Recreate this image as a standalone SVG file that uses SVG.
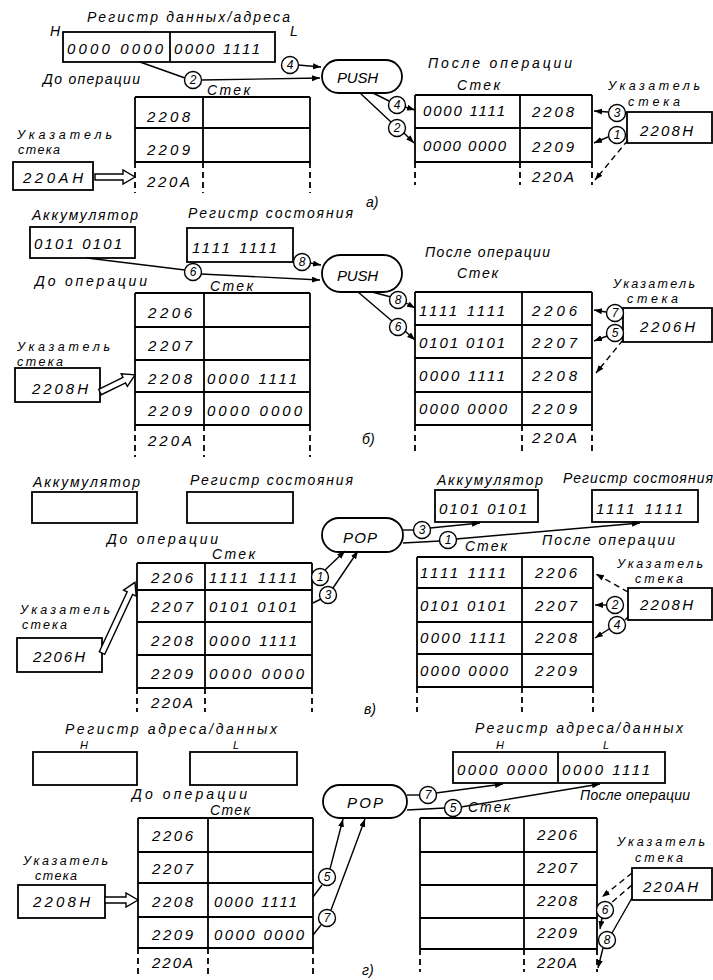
<svg xmlns="http://www.w3.org/2000/svg" width="713" height="980" viewBox="0 0 713 980">
<style>
.t{font-family:"Liberation Sans",Arial,sans-serif;font-style:italic;font-size:14px;fill:#000}
.v{font-size:15px}
.s{font-size:11px}
.p{font-size:12.5px}
.b{fill:none;stroke:#000;stroke-width:1.8}
.l{fill:none;stroke:#000;stroke-width:1.4}
.d{stroke-dasharray:6 4}
.c{fill:#fff;stroke:#000;stroke-width:1.4}
.n{font-family:"Liberation Sans",Arial,sans-serif;font-style:italic;font-size:12px;text-anchor:middle;fill:#000}
.h{fill:#fff;stroke:#000;stroke-width:1.4}
.op{fill:#fff;stroke:#000;stroke-width:1.8}
</style>
<defs>
<marker id="ah" markerUnits="userSpaceOnUse" markerWidth="9" markerHeight="7" refX="8" refY="3" orient="auto"><path d="M0,0 L8,3 L0,6 z" fill="#000"/></marker>
</defs>
<rect width="713" height="980" fill="#fff"/>

<!-- ===== a) ===== -->
<g id="reg-a-before">
<text class="t" x="87" y="22" textLength="203">Регистр данных/адреса</text>
<text class="t" x="50" y="36">H</text>
<text class="t" x="290" y="36">L</text>
<rect class="b" x="63" y="32" width="212" height="30"/>
<line class="b" x1="170" y1="32" x2="170" y2="62"/>
<text class="t v" x="67" y="54" textLength="96">0000 0000</text>
<text class="t v" x="174" y="54" textLength="86">0000 1111</text>
</g>
<g id="label-a-before"><text class="t" x="43" y="84" textLength="97">До операции</text></g>
<g id="stack-a-before">
<text class="t" x="207" y="95" textLength="43">Стек</text>
<path class="b" d="M135,97H310 M135,128H310 M135,162H310 M135,97V162 M203,97V162 M310,97V162"/>
<path class="b d" d="M135,162V193 M203,162V193 M310,162V193"/>
<text class="t v" x="147" y="122" textLength="43">2208</text>
<text class="t v" x="147" y="155" textLength="43">2209</text>
<text class="t v" x="147" y="187" textLength="43">220A</text>
</g>
<g id="sp-a-before">
<text class="t p" x="17" y="139" textLength="95">Указатель</text>
<text class="t p" x="18" y="154" textLength="42">стека</text>
<rect class="b" x="13" y="162" width="80" height="28"/>
<text class="t v" x="23" y="183" textLength="60">220AH</text>
<path class="h" transform="translate(95,177)" d="M0,-3 L28,-3 L28,-7 L40,0 L28,7 L28,3 L0,3 Z"/>
</g>
<g id="push-a">
<rect class="op" x="322" y="60" width="80" height="33" rx="16.5"/>
<text class="t v" x="337" y="83" textLength="41">PUSH</text>
</g>
<g id="label-a-after"><text class="t" x="428" y="68" textLength="144">После операции</text></g>
<g id="stack-a-after">
<text class="t" x="457" y="90" textLength="43">Стек</text>
<path class="b" d="M415,95H592 M415,128H592 M415,162H592 M415,95V162 M520,95V162 M592,95V162"/>
<path class="b d" d="M415,162V185 M520,162V185 M592,162V185"/>
<text class="t v" x="423" y="116" textLength="82">0000 1111</text>
<text class="t v" x="532" y="117" textLength="42">2208</text>
<text class="t v" x="423" y="151" textLength="83">0000 0000</text>
<text class="t v" x="532" y="152" textLength="42">2209</text>
<text class="t v" x="532" y="182" textLength="42">220A</text>
</g>
<g id="sp-a-after">
<text class="t p" x="608" y="90" textLength="92">Указатель</text>
<text class="t p" x="628" y="106" textLength="52">стека</text>
<rect class="b" x="627" y="112" width="85" height="31"/>
<text class="t v" x="640" y="136" textLength="53">2208H</text>
</g>
<text class="t" x="366" y="207">а)</text>

<!-- ===== б) ===== -->
<g id="acc-b-before">
<text class="t" x="32" y="220" textLength="106">Аккумулятор</text>
<rect class="b" x="30" y="227" width="105" height="31"/>
<text class="t v" x="34" y="249" textLength="88">0101 0101</text>
</g>
<g id="sr-b-before">
<text class="t" x="188" y="218" textLength="165">Регистр состояния</text>
<rect class="b" x="187" y="228" width="106" height="34"/>
<text class="t v" x="192" y="253" textLength="85">1111 1111</text>
</g>
<g id="label-b-before"><text class="t" x="35" y="286" textLength="112">До операции</text></g>
<g id="stack-b-before">
<text class="t" x="210" y="291" textLength="43">Стек</text>
<path class="b" d="M135,293H310 M135,327H310 M135,360H310 M135,392H310 M135,425H310 M135,293V425 M204,293V425 M310,293V425"/>
<path class="b d" d="M135,425V457 M204,425V457 M310,425V457"/>
<text class="t v" x="148" y="318" textLength="44">2206</text>
<text class="t v" x="148" y="351" textLength="44">2207</text>
<text class="t v" x="148" y="384" textLength="44">2208</text>
<text class="t v" x="148" y="416" textLength="44">2209</text>
<text class="t v" x="148" y="446" textLength="44">220A</text>
<text class="t v" x="207" y="384" textLength="90">0000 1111</text>
<text class="t v" x="207" y="416" textLength="95">0000 0000</text>
</g>
<g id="sp-b-before">
<text class="t p" x="17" y="351" textLength="93">Указатель</text>
<text class="t p" x="17" y="366" textLength="46">стека</text>
<rect class="b" x="15" y="368" width="85" height="34"/>
<text class="t v" x="32" y="394" textLength="56">2208H</text>
<path class="h" transform="translate(100,392) rotate(-26)" d="M0,-3 L27,-3 L27,-7 L39,0 L27,7 L27,3 L0,3 Z"/>
</g>
<g id="push-b">
<rect class="op" x="322" y="255" width="80" height="37" rx="18.5"/>
<text class="t v" x="337" y="281" textLength="41">PUSH</text>
</g>
<g id="label-b-after"><text class="t" x="425" y="257" textLength="125">После операции</text></g>
<g id="stack-b-after">
<text class="t" x="457" y="278" textLength="41">Стек</text>
<path class="b" d="M415,292H592 M415,325H592 M415,358H592 M415,392H592 M415,425H592 M415,292V425 M522,292V425 M592,292V425"/>
<path class="b d" d="M415,425V452 M522,425V452 M592,425V452"/>
<text class="t v" x="419" y="316" textLength="86">1111 1111</text>
<text class="t v" x="419" y="348" textLength="86">0101 0101</text>
<text class="t v" x="419" y="381" textLength="86">0000 1111</text>
<text class="t v" x="419" y="414" textLength="88">0000 0000</text>
<text class="t v" x="532" y="316" textLength="45">2206</text>
<text class="t v" x="532" y="348" textLength="45">2207</text>
<text class="t v" x="532" y="381" textLength="45">2208</text>
<text class="t v" x="532" y="414" textLength="45">2209</text>
<text class="t v" x="532" y="443" textLength="45">220A</text>
</g>
<g id="sp-b-after">
<text class="t p" x="613" y="288" textLength="82">Указатель</text>
<text class="t p" x="627" y="303" textLength="51">стека</text>
<rect class="b" x="623" y="308" width="89" height="34"/>
<text class="t v" x="640" y="332" textLength="55">2206H</text>
</g>
<text class="t" x="362" y="444">б)</text>

<!-- ===== в) ===== -->
<g id="acc-c-before">
<text class="t" x="33" y="487" textLength="107">Аккумулятор</text>
<rect class="b" x="32" y="492" width="105" height="31"/>
</g>
<g id="sr-c-before">
<text class="t" x="190" y="485" textLength="163">Регистр состояния</text>
<rect class="b" x="187" y="492" width="106" height="31"/>
</g>
<g id="label-c-before"><text class="t" x="107" y="544" textLength="111">До операции</text></g>
<g id="stack-c-before">
<text class="t" x="212" y="559" textLength="43">Стек</text>
<path class="b" d="M137,563H312 M137,590H312 M137,622H312 M137,655H312 M137,688H312 M137,563V688 M205,563V688 M312,563V688"/>
<path class="b d" d="M137,688V712 M205,688V712 M312,688V712"/>
<text class="t v" x="151" y="583" textLength="42">2206</text>
<text class="t v" x="151" y="612" textLength="42">2207</text>
<text class="t v" x="151" y="646" textLength="42">2208</text>
<text class="t v" x="151" y="679" textLength="42">2209</text>
<text class="t v" x="151" y="708" textLength="42">220A</text>
<text class="t v" x="209" y="583" textLength="88">1111 1111</text>
<text class="t v" x="209" y="612" textLength="88">0101 0101</text>
<text class="t v" x="209" y="646" textLength="88">0000 1111</text>
<text class="t v" x="209" y="679" textLength="95">0000 0000</text>
</g>
<g id="sp-c-before">
<text class="t p" x="20" y="614" textLength="90">Указатель</text>
<text class="t p" x="22" y="629" textLength="45">стека</text>
<rect class="b" x="17" y="638" width="85" height="34"/>
<text class="t v" x="33" y="662" textLength="52">2206H</text>
<path class="h" transform="translate(102,653) rotate(-65)" d="M0,-3 L66,-3 L66,-7 L78,0 L66,7 L66,3 L0,3 Z"/>
</g>
<g id="pop-c">
<rect class="op" x="322" y="518" width="81" height="34" rx="17"/>
<text class="t v" x="343" y="543" textLength="34">POP</text>
</g>
<g id="acc-c-after">
<text class="t" x="437" y="485" textLength="106">Аккумулятор</text>
<rect class="b" x="435" y="490" width="103" height="32"/>
<text class="t v" x="439" y="514" textLength="88">0101 0101</text>
</g>
<g id="sr-c-after">
<text class="t" x="563" y="483" textLength="150">Регистр состояния</text>
<rect class="b" x="592" y="490" width="106" height="32"/>
<text class="t v" x="596" y="514" textLength="87">1111 1111</text>
</g>
<g id="label-c-after"><text class="t" x="542" y="545" textLength="133">После операции</text></g>
<g id="stack-c-after">
<text class="t" x="465" y="551" textLength="42">Стек</text>
<path class="b" d="M417,557H593 M417,588H593 M417,622H593 M417,654H593 M417,687H593 M417,557V687 M522,557V687 M593,557V687"/>
<path class="b d" d="M417,687V712 M522,687V712 M593,687V712"/>
<text class="t v" x="420" y="578" textLength="86">1111 1111</text>
<text class="t v" x="420" y="611" textLength="86">0101 0101</text>
<text class="t v" x="420" y="643" textLength="86">0000 1111</text>
<text class="t v" x="420" y="676" textLength="88">0000 0000</text>
<text class="t v" x="535" y="578" textLength="42">2206</text>
<text class="t v" x="535" y="611" textLength="42">2207</text>
<text class="t v" x="535" y="643" textLength="42">2208</text>
<text class="t v" x="535" y="676" textLength="42">2209</text>
</g>
<g id="sp-c-after">
<text class="t p" x="617" y="568" textLength="86">Указатель</text>
<text class="t p" x="635" y="583" textLength="48">стека</text>
<rect class="b" x="628" y="588" width="84" height="32"/>
<text class="t v" x="640" y="610" textLength="53">2208H</text>
</g>
<text class="t" x="364" y="714">в)</text>

<!-- ===== г) ===== -->
<g id="reg-d-before">
<text class="t" x="65" y="734" textLength="212">Регистр адреса/данных</text>
<text class="t s" x="80" y="749">H</text>
<text class="t s" x="233" y="749">L</text>
<rect class="b" x="33" y="752" width="104" height="33"/>
<rect class="b" x="190" y="752" width="107" height="33"/>
</g>
<g id="label-d-before"><text class="t" x="132" y="799" textLength="115">До операции</text></g>
<g id="stack-d-before">
<text class="t" x="210" y="815" textLength="40">Стек</text>
<path class="b" d="M138,818H313 M138,852H313 M138,883H313 M138,917H313 M138,948H313 M138,818V948 M208,818V948 M313,818V948"/>
<path class="b d" d="M138,948V978 M208,948V978 M313,948V978"/>
<text class="t v" x="152" y="841" textLength="41">2206</text>
<text class="t v" x="152" y="874" textLength="41">2207</text>
<text class="t v" x="152" y="907" textLength="41">2208</text>
<text class="t v" x="152" y="940" textLength="41">2209</text>
<text class="t v" x="152" y="968" textLength="41">220A</text>
<text class="t v" x="214" y="907" textLength="83">0000 1111</text>
<text class="t v" x="214" y="940" textLength="90">0000 0000</text>
</g>
<g id="sp-d-before">
<text class="t p" x="23" y="865" textLength="85">Указатель</text>
<text class="t p" x="35" y="880" textLength="42">стека</text>
<rect class="b" x="18" y="885" width="87" height="33"/>
<text class="t v" x="33" y="907" textLength="57">2208H</text>
<path class="h" transform="translate(105,900)" d="M0,-3 L21,-3 L21,-7 L33,0 L21,7 L21,3 L0,3 Z"/>
</g>
<g id="pop-d">
<rect class="op" x="323" y="785" width="84" height="33" rx="16.5"/>
<text class="t v" x="347" y="808" textLength="36">POP</text>
</g>
<g id="reg-d-after">
<text class="t" x="475" y="733" textLength="208">Регистр адреса/данных</text>
<text class="t s" x="496" y="749">H</text>
<text class="t s" x="603" y="749">L</text>
<rect class="b" x="453" y="752" width="212" height="31"/>
<line class="b" x1="558" y1="752" x2="558" y2="783"/>
<text class="t v" x="457" y="775" textLength="90">0000 0000</text>
<text class="t v" x="562" y="775" textLength="88">0000 1111</text>
</g>
<g id="label-d-after"><text class="t" x="580" y="800" textLength="110">После операции</text></g>
<g id="stack-d-after">
<text class="t" x="468" y="812" textLength="42">Стек</text>
<path class="b" d="M420,818H597 M420,852H597 M420,885H597 M420,918H597 M420,949H597 M420,818V949 M524,818V949 M597,818V949"/>
<path class="b d" d="M420,949V972 M524,949V972 M597,949V972"/>
<text class="t v" x="537" y="840" textLength="40">2206</text>
<text class="t v" x="537" y="873" textLength="40">2207</text>
<text class="t v" x="537" y="906" textLength="40">2208</text>
<text class="t v" x="537" y="938" textLength="40">2209</text>
<text class="t v" x="537" y="968" textLength="40">220A</text>
</g>
<g id="sp-d-after">
<text class="t p" x="617" y="846" textLength="88">Указатель</text>
<text class="t p" x="635" y="862" textLength="48">стека</text>
<rect class="b" x="632" y="868" width="80" height="32"/>
<text class="t v" x="643" y="892" textLength="55">220AH</text>
</g>
<text class="t" x="362" y="975">г)</text>

<!-- ===== connectors ===== -->
<g id="connectors">
<!-- a -->
<path class="l" d="M140,62 L185,78"/>
<path class="l" d="M201,80 L320,78" marker-end="url(#ah)"/>
<path class="l" d="M298,65 L321,67" marker-end="url(#ah)"/>
<path class="l" d="M360,93 L391,122"/>
<path class="l" d="M404,133 L414,143" marker-end="url(#ah)"/>
<path class="l" d="M373,93 L389,101"/>
<path class="l" d="M405,107 L415,110" marker-end="url(#ah)"/>
<path class="l" d="M608,112 L594,111" marker-end="url(#ah)"/>
<path class="l" d="M608,137 L594,143" marker-end="url(#ah)"/>
<path class="l d" d="M628,140 L595,180" marker-end="url(#ah)"/>
<!-- b -->
<path class="l" d="M87,258 L185,270"/>
<path class="l" d="M201,274 L320,280" marker-end="url(#ah)"/>
<path class="l" d="M310,263 L321,265" marker-end="url(#ah)"/>
<path class="l" d="M372,292 L391,297"/>
<path class="l" d="M406,303 L415,308" marker-end="url(#ah)"/>
<path class="l" d="M358,292 L392,321"/>
<path class="l" d="M405,331 L415,340" marker-end="url(#ah)"/>
<path class="l" d="M606,312 L594,310" marker-end="url(#ah)"/>
<path class="l" d="M607,336 L594,341" marker-end="url(#ah)"/>
<path class="l d" d="M623,340 L596,373" marker-end="url(#ah)"/>
<!-- c -->
<path class="l" d="M325,570 L345,551" marker-end="url(#ah)"/>
<path class="l" d="M313,603 L321,599"/>
<path class="l" d="M333,588 L358,551" marker-end="url(#ah)"/>
<path class="l" d="M403,530 L414,530"/>
<path class="l" d="M430,528 L480,523" marker-end="url(#ah)"/>
<path class="l" d="M403,543 L440,541"/>
<path class="l" d="M456,539 L640,523" marker-end="url(#ah)"/>
<path class="l d" d="M628,592 L596,574" marker-end="url(#ah)"/>
<path class="l" d="M606,605 L595,605" marker-end="url(#ah)"/>
<path class="l" d="M628,617 L625,620"/>
<path class="l" d="M609,629 L595,638" marker-end="url(#ah)"/>
<!-- d -->
<path class="l" d="M313,897 L322,885"/>
<path class="l" d="M330,869 L343,819" marker-end="url(#ah)"/>
<path class="l" d="M313,935 L321,925"/>
<path class="l" d="M331,910 Q350,860 365,819" marker-end="url(#ah)"/>
<path class="l" d="M407,795 L420,795"/>
<path class="l" d="M436,793 L503,784" marker-end="url(#ah)"/>
<path class="l" d="M407,810 L445,808"/>
<path class="l" d="M461,807 L600,784" marker-end="url(#ah)"/>
<path class="l d" d="M632,873 L602,897" marker-end="url(#ah)"/>
<path class="l d" d="M632,885 L611,903"/>
<path class="l" d="M602,918 L600,929" marker-end="url(#ah)"/>
<path class="l" d="M632,898 L612,933"/>
<path class="l" d="M603,948 L598,968" marker-end="url(#ah)"/>
<!-- numbered markers -->
<circle class="c" cx="193" cy="80" r="8.5"/><text class="n" x="193" y="84">2</text>
<circle class="c" cx="290" cy="65" r="8.5"/><text class="n" x="290" y="69">4</text>
<circle class="c" cx="397" cy="105" r="8.5"/><text class="n" x="397" y="109">4</text>
<circle class="c" cx="397" cy="128" r="8.5"/><text class="n" x="397" y="132">2</text>
<circle class="c" cx="617" cy="113" r="8.5"/><text class="n" x="617" y="117">3</text>
<circle class="c" cx="617" cy="135" r="8.5"/><text class="n" x="617" y="139">1</text>
<circle class="c" cx="193" cy="272" r="8.5"/><text class="n" x="193" y="276">6</text>
<circle class="c" cx="302" cy="262" r="8.5"/><text class="n" x="302" y="266">8</text>
<circle class="c" cx="398" cy="300" r="8.5"/><text class="n" x="398" y="304">8</text>
<circle class="c" cx="398" cy="327" r="8.5"/><text class="n" x="398" y="331">6</text>
<circle class="c" cx="615" cy="313" r="8.5"/><text class="n" x="615" y="317">7</text>
<circle class="c" cx="615" cy="333" r="8.5"/><text class="n" x="615" y="337">5</text>
<circle class="c" cx="320" cy="577" r="8.5"/><text class="n" x="320" y="581">1</text>
<circle class="c" cx="328" cy="595" r="8.5"/><text class="n" x="328" y="599">3</text>
<circle class="c" cx="422" cy="530" r="8.5"/><text class="n" x="422" y="534">3</text>
<circle class="c" cx="448" cy="540" r="8.5"/><text class="n" x="448" y="544">1</text>
<circle class="c" cx="615" cy="605" r="8.5"/><text class="n" x="615" y="609">2</text>
<circle class="c" cx="617" cy="625" r="8.5"/><text class="n" x="617" y="629">4</text>
<circle class="c" cx="327" cy="877" r="8.5"/><text class="n" x="327" y="881">5</text>
<circle class="c" cx="327" cy="918" r="8.5"/><text class="n" x="327" y="922">7</text>
<circle class="c" cx="428" cy="795" r="8.5"/><text class="n" x="428" y="799">7</text>
<circle class="c" cx="453" cy="808" r="8.5"/><text class="n" x="453" y="812">5</text>
<circle class="c" cx="605" cy="910" r="8.5"/><text class="n" x="605" y="914">6</text>
<circle class="c" cx="607" cy="940" r="8.5"/><text class="n" x="607" y="944">8</text>
</g>
</svg>
